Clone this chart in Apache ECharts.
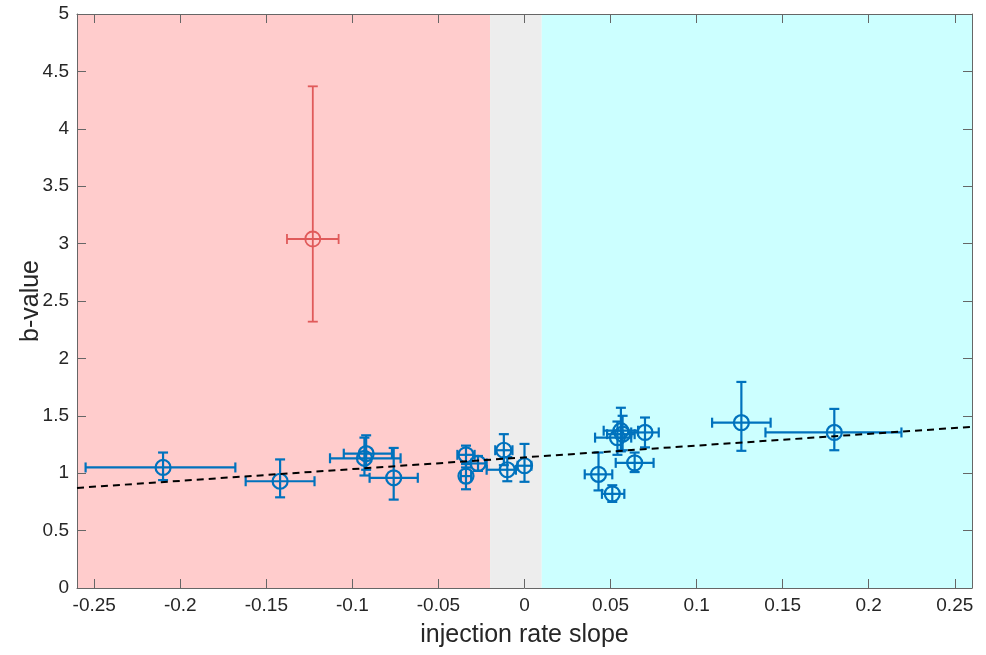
<!DOCTYPE html>
<html>
<head>
<meta charset="utf-8">
<script src="https://cdn.jsdelivr.net/npm/echarts@6/dist/echarts.min.js"></script>
<style>
  html, body { margin: 0; padding: 0; background: #fff; }
  #chart { width: 986px; height: 655px; }
</style>
</head>
<body>
<div id="chart"></div>
<script>
// Shaded slope regimes (decreasing / flat / increasing injection rate)
const bandStart = [-0.26, -0.02, 0.01];
const bandEnd   = [-0.02, 0.01, 0.26];

// Stations: slope, b-value, slope range, b-value range
const slope    = [-0.210, -0.142, -0.092, -0.093, -0.076, -0.034, -0.027, -0.034, -0.012, -0.010, 0.000, 0.043, 0.051, 0.056, 0.054, 0.057, 0.070, 0.064, 0.126, 0.180];
const bValue   = [ 1.05,   0.93,   1.17,   1.13,   0.96,   1.16,   1.085,  0.975,  1.20,   1.03,  1.065, 0.99,  0.82,  1.37,  1.31,  1.34,  1.355, 1.09,  1.44,  1.355];
const slopeLo  = [-0.255, -0.162, -0.105, -0.113, -0.090, -0.039, -0.031, -0.037, -0.017, -0.022, -0.004, 0.035, 0.045, 0.046, 0.041, 0.048, 0.062, 0.053, 0.109, 0.140];
const slopeHi  = [-0.168, -0.122, -0.077, -0.072, -0.062, -0.029, -0.022, -0.031, -0.007, -0.005, 0.004, 0.051, 0.058, 0.066, 0.062, 0.064, 0.078, 0.075, 0.143, 0.219];
const bLo      = [ 0.94,   0.79,   1.03,   0.98,   0.77,   1.05,   1.02,   0.86,   1.07,   0.93,  0.925, 0.85,  0.75,  1.19,  1.16,  1.20,  1.225, 1.01,  1.195, 1.20];
const bHi      = [ 1.18,   1.12,   1.33,   1.31,   1.22,   1.24,   1.15,   1.08,   1.34,   1.14,  1.255, 1.18,  0.895, 1.57,  1.45,  1.50,  1.485, 1.18,  1.795, 1.56];

// Outlier station
const outSlope = [-0.123];
const outB     = [3.04];
const outSlopeLo = [-0.138];
const outSlopeHi = [-0.108];
const outBLo   = [2.32];
const outBHi   = [4.37];

// Linear fit endpoints
const fitX = [-0.26, 0.26];
const fitY = [0.872, 1.404];

// Axis ticks
const xTicks = [-0.25, -0.2, -0.15, -0.1, -0.05, 0, 0.05, 0.1, 0.15, 0.2, 0.25];

const FONT = '"Liberation Sans", Arial, Helvetica, sans-serif';
const TEXT = '#262626';
const FRAME = '#666666';

const bandRows = bandStart.map((s, i) => [s, bandEnd[i], i]);
const bandFill = ['#FFCCCC', '#EDEDED', '#CCFFFF'];

const pointRows = slope.map((s, i) => [s, bValue[i], slopeLo[i], slopeHi[i], bLo[i], bHi[i]]);
const outRows = outSlope.map((s, i) => [s, outB[i], outSlopeLo[i], outSlopeHi[i], outBLo[i], outBHi[i]]);
const fitRows = fitX.map((x, i) => [x, fitY[i]]);

function errorBarRenderer(color, width) {
  return function (params, api) {
    const x = api.value(0), y = api.value(1);
    const c = api.coord([x, y]);
    const xl = api.coord([api.value(2), y])[0];
    const xh = api.coord([api.value(3), y])[0];
    const yl = api.coord([x, api.value(4)])[1];
    const yh = api.coord([x, api.value(5)])[1];
    const cap = 5;
    const style = { stroke: color, lineWidth: width, fill: null };
    return {
      type: 'group',
      children: [
        { type: 'line', shape: { x1: c[0], y1: yl, x2: c[0], y2: yh }, style },
        { type: 'line', shape: { x1: c[0] - cap, y1: yl, x2: c[0] + cap, y2: yl }, style },
        { type: 'line', shape: { x1: c[0] - cap, y1: yh, x2: c[0] + cap, y2: yh }, style },
        { type: 'line', shape: { x1: xl, y1: c[1], x2: xh, y2: c[1] }, style },
        { type: 'line', shape: { x1: xl, y1: c[1] - cap, x2: xl, y2: c[1] + cap }, style },
        { type: 'line', shape: { x1: xh, y1: c[1] - cap, x2: xh, y2: c[1] + cap }, style },
        { type: 'circle', shape: { cx: c[0], cy: c[1], r: 7.5 }, style }
      ]
    };
  };
}

const chart = echarts.init(document.getElementById('chart'), null, { renderer: 'canvas' });

const xBase = {
  type: 'value', min: -0.26, max: 0.26,
  axisLine: { show: true, onZero: false, lineStyle: { color: FRAME, width: 1 } },
  splitLine: { show: false }
};
const yBase = {
  type: 'value', min: 0, max: 5, interval: 0.5,
  axisLine: { show: true, onZero: false, lineStyle: { color: FRAME, width: 1 } },
  splitLine: { show: false }
};

chart.setOption({
  animation: false,
  backgroundColor: '#ffffff',
  grid: { left: 77, right: 14, top: 14, bottom: 67, containLabel: false, outerBoundsMode: 'none' },
  xAxis: [
    Object.assign({}, xBase, {
      position: 'bottom',
      name: 'injection rate slope',
      nameLocation: 'middle',
      nameGap: 35,
      nameMoveOverlap: false,
      nameTextStyle: { fontFamily: FONT, fontSize: 25, color: TEXT },
      axisTick: { show: true, inside: true, length: 9, customValues: xTicks, lineStyle: { color: FRAME } },
      axisLabel: { show: true, customValues: xTicks, margin: 8, fontFamily: FONT, fontSize: 19, color: TEXT,
        formatter: v => String(Math.round(v * 100) / 100) }
    }),
    Object.assign({}, xBase, {
      position: 'top',
      axisTick: { show: true, inside: true, length: 9, customValues: xTicks, lineStyle: { color: FRAME } },
      axisLabel: { show: false }
    })
  ],
  yAxis: [
    Object.assign({}, yBase, {
      position: 'left',
      name: 'b-value',
      nameLocation: 'middle',
      nameGap: 33,
      nameMoveOverlap: false,
      nameRotate: 90,
      nameTextStyle: { fontFamily: FONT, fontSize: 25, color: TEXT },
      axisTick: { show: true, inside: true, length: 9, lineStyle: { color: FRAME } },
      axisLabel: { show: true, margin: 8, fontFamily: FONT, fontSize: 19, color: TEXT }
    }),
    Object.assign({}, yBase, {
      position: 'right',
      axisTick: { show: true, inside: true, length: 9, lineStyle: { color: FRAME } },
      axisLabel: { show: false }
    })
  ],
  series: [
    {
      type: 'custom',
      name: 'regimes',
      xAxisIndex: 0, yAxisIndex: 0,
      z: 0,
      silent: true,
      data: bandRows,
      renderItem: function (params, api) {
        const p0 = api.coord([api.value(0), 5]);
        const p1 = api.coord([api.value(1), 0]);
        return {
          type: 'rect',
          shape: { x: p0[0], y: p0[1], width: p1[0] - p0[0], height: p1[1] - p0[1] },
          style: { fill: bandFill[api.value(2)] }
        };
      }
    },
    {
      type: 'custom',
      name: 'stations',
      xAxisIndex: 0, yAxisIndex: 0,
      z: 3,
      data: pointRows,
      renderItem: errorBarRenderer('#0072BD', 2.2)
    },
    {
      type: 'custom',
      name: 'outlier',
      xAxisIndex: 0, yAxisIndex: 0,
      z: 3,
      data: outRows,
      renderItem: errorBarRenderer('#E05A5A', 1.8)
    },
    {
      type: 'line',
      name: 'fit',
      xAxisIndex: 0, yAxisIndex: 0,
      z: 4,
      data: fitRows,
      showSymbol: false,
      symbol: 'none',
      lineStyle: { color: '#000000', width: 2, type: [7, 5] }
    }
  ]
});
</script>
</body>
</html>
